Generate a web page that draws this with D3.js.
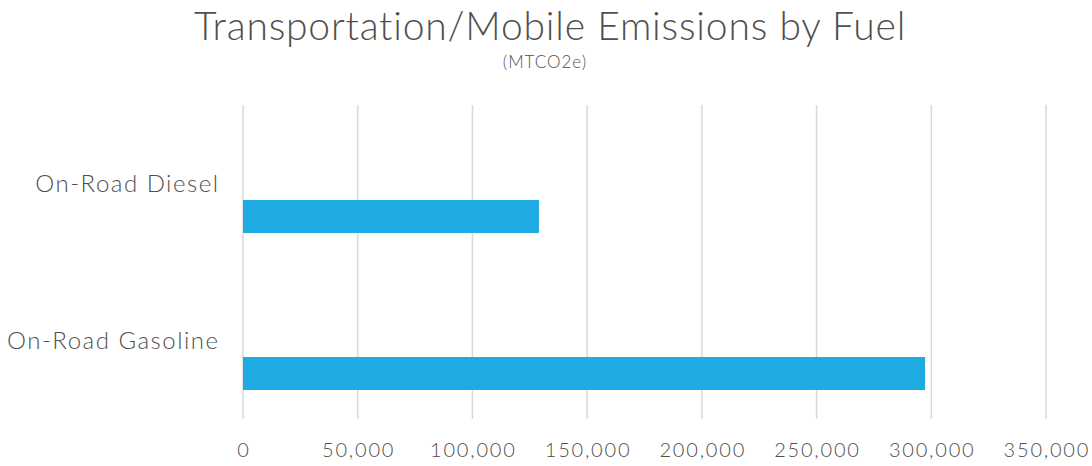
<!DOCTYPE html>
<html>
<head>
<meta charset="utf-8">
<script src="https://cdn.jsdelivr.net/npm/d3@7"></script>
<style>
  body { margin: 0; background: #fff; }
  text { font-family: "Century Gothic", "Lato", "Open Sans", sans-serif; fill: #4f4f4f; font-weight: 300; }
</style>
</head>
<body>
<div id="chart"></div>
<script>
const categories = ["On-Road Diesel", "On-Road Gasoline"];
const emissions = [129000, 297300];
const xTicks = [0, 50000, 100000, 150000, 200000, 250000, 300000, 350000];
// excel clustered layout: three series slots, only the last one has values
const seriesSlots = ["s1", "s2", "MTCO2e"];

const width = 1092, height = 466;
const margin = {top: 105, right: 46, bottom: 47, left: 243};

const svg = d3.select("#chart").append("svg")
    .attr("width", width)
    .attr("height", height);

const x = d3.scaleLinear()
    .domain([0, 350000])
    .range([margin.left, width - margin.right]);

const y = d3.scaleBand()
    .domain(categories)
    .range([margin.top, height - margin.bottom]);

const slot = d3.scaleBand()
    .domain(seriesSlots)
    .range([0, y.bandwidth()])
    .paddingOuter(0.88);

// gridlines
svg.append("g")
    .selectAll("line")
    .data(xTicks)
    .enter().append("line")
    .attr("x1", d => x(d))
    .attr("x2", d => x(d))
    .attr("y1", margin.top)
    .attr("y2", height - margin.bottom)
    .attr("stroke", "#d9d9d9")
    .attr("stroke-width", 1.5);

// bars
svg.append("g")
    .selectAll("rect")
    .data(categories)
    .enter().append("rect")
    .attr("x", x(0))
    .attr("y", d => y(d) + slot("MTCO2e"))
    .attr("width", (d, i) => x(emissions[i]) - x(0))
    .attr("height", slot.bandwidth())
    .attr("fill", "#1eabe3");

// x tick labels
svg.append("g")
    .selectAll("text")
    .data(xTicks)
    .enter().append("text")
    .attr("x", d => x(d) + 0.9)
    .attr("y", 457)
    .attr("text-anchor", "middle")
    .attr("font-size", 20)
    .attr("letter-spacing", 1.8)
    .text(d => d3.format(",")(d));

// category labels
svg.append("g")
    .selectAll("text")
    .data(categories)
    .enter().append("text")
    .attr("x", 219.5)
    .attr("y", d => y(d) + y.bandwidth() / 2 + 8)
    .attr("text-anchor", "end")
    .attr("font-size", 24)
    .attr("letter-spacing", 1.5)
    .text(d => d);

svg.append("text")
    .attr("x", 550)
    .attr("y", 40)
    .attr("text-anchor", "middle")
    .attr("font-size", 39)
    .attr("letter-spacing", 0.8)
    .text("Transportation/Mobile Emissions by Fuel");

svg.append("text")
    .attr("x", 545)
    .attr("y", 68)
    .attr("text-anchor", "middle")
    .attr("font-size", 17)
    .attr("letter-spacing", 1)
    .text("(MTCO2e)");
</script>
</body>
</html>
